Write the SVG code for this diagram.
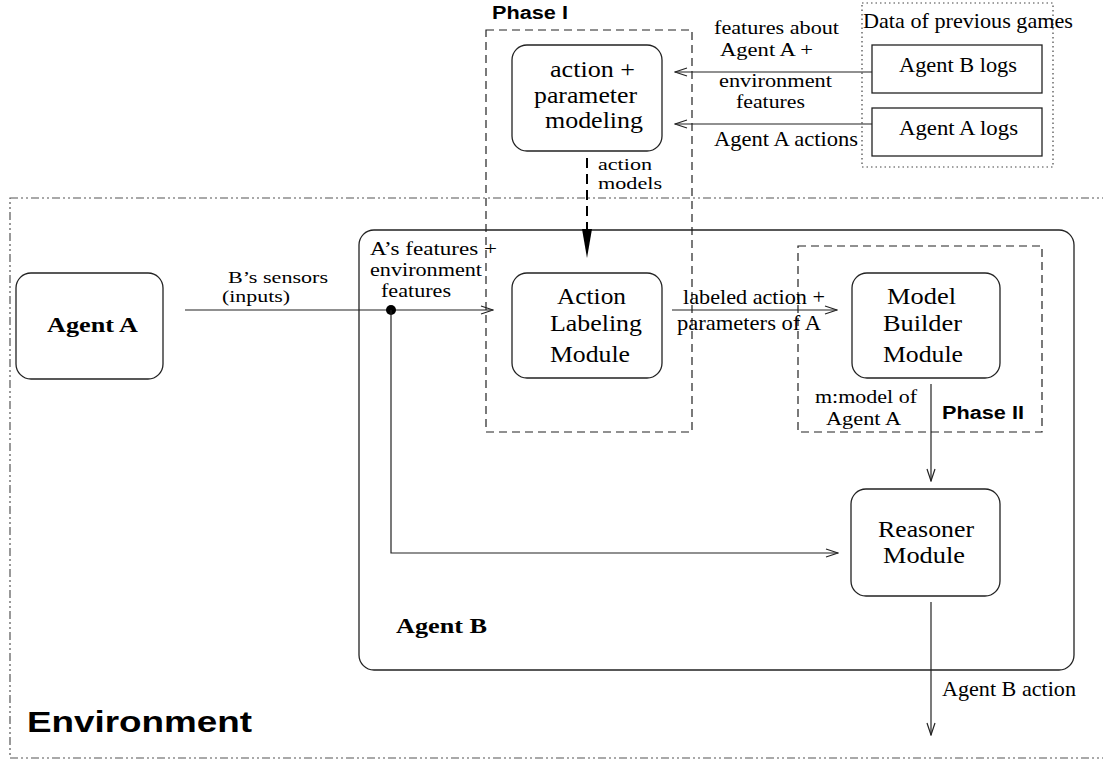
<svg xmlns="http://www.w3.org/2000/svg" width="1103" height="762" viewBox="0 0 1103 762">
<style>
.s{font-family:"Liberation Serif","Times New Roman",serif;font-size:22px;fill:#000}
.t{font-family:"Liberation Serif","Times New Roman",serif;font-size:18px;fill:#000}
.u{font-family:"Liberation Serif","Times New Roman",serif;font-size:16px;fill:#000}
.n{font-family:"Liberation Serif","Times New Roman",serif;font-size:24px;fill:#000}
.b{font-family:"Liberation Serif","Times New Roman",serif;font-size:21px;font-weight:bold;fill:#000}
.h{font-family:"Liberation Sans",Arial,sans-serif;font-size:18px;font-weight:bold;fill:#000}
.node{fill:#fff;stroke:#222;stroke-width:1.3}
.ln{fill:none;stroke:#222;stroke-width:1.2}
.dash{fill:none;stroke:#222;stroke-width:1.2;stroke-dasharray:8 5}
</style>
<defs>
<marker id="oa" markerUnits="userSpaceOnUse" markerWidth="14" markerHeight="10" refX="13" refY="5" orient="auto">
<path d="M1,1 L13,5 L1,9" fill="none" stroke="#222" stroke-width="1.2"/>
</marker>
</defs>
<rect width="1103" height="762" fill="#fff"/>

<g id="environment">
<rect x="10" y="198" width="1110" height="560" fill="none" stroke="#555" stroke-width="1.2" stroke-dasharray="8 3 2 3 2 3"/>
<text class="h" x="27" y="732" style="font-size:30px" textLength="225" lengthAdjust="spacingAndGlyphs">Environment</text>
</g>

<g id="agentB">
<rect x="359" y="230" width="715" height="440" rx="15" fill="none" stroke="#222" stroke-width="1.3"/>
<text class="b" x="396" y="633" textLength="91" lengthAdjust="spacingAndGlyphs">Agent B</text>
</g>

<g id="phase1">
<rect x="486" y="30" width="206" height="402" class="dash"/>
<text class="h" x="492" y="19" textLength="76" lengthAdjust="spacingAndGlyphs">Phase I</text>
</g>

<g id="phase2">
<rect x="798" y="246" width="244" height="186" class="dash"/>
<text class="h" x="942" y="419" textLength="82" lengthAdjust="spacingAndGlyphs">Phase II</text>
</g>

<g id="data">
<rect x="862" y="3" width="191" height="164" fill="none" stroke="#444" stroke-width="1.2" stroke-dasharray="1.5 3"/>
<text class="s" x="863" y="28" textLength="210" lengthAdjust="spacingAndGlyphs">Data of previous games</text>
</g>

<g id="agentBlogs">
<rect x="872" y="45" width="170" height="48" fill="#fff" stroke="#222" stroke-width="1.3"/>
<text class="s" x="899" y="72" textLength="118" lengthAdjust="spacingAndGlyphs">Agent B logs</text>
</g>

<g id="agentAlogs">
<rect x="872" y="108" width="170" height="48" fill="#fff" stroke="#222" stroke-width="1.3"/>
<text class="s" x="899" y="135" textLength="119" lengthAdjust="spacingAndGlyphs">Agent A logs</text>
</g>

<g id="modeling">
<rect x="512" y="45" width="150" height="106" rx="15" class="node"/>
<text class="n" x="550" y="77" textLength="85" lengthAdjust="spacingAndGlyphs">action +</text>
<text class="n" x="534" y="103" textLength="103" lengthAdjust="spacingAndGlyphs">parameter</text>
<text class="n" x="545" y="128" textLength="98" lengthAdjust="spacingAndGlyphs">modeling</text>
</g>

<g id="agentA">
<rect x="16" y="273" width="147" height="106" rx="15" class="node"/>
<text class="b" x="47" y="332" textLength="91" lengthAdjust="spacingAndGlyphs">Agent A</text>
</g>

<g id="labeling">
<rect x="512" y="273" width="150" height="105" rx="15" class="node"/>
<text class="n" x="557" y="304" textLength="69" lengthAdjust="spacingAndGlyphs">Action</text>
<text class="n" x="550" y="331" textLength="92" lengthAdjust="spacingAndGlyphs">Labeling</text>
<text class="n" x="550" y="362" textLength="80" lengthAdjust="spacingAndGlyphs">Module</text>
</g>

<g id="builder">
<rect x="852" y="273" width="148" height="105" rx="15" class="node"/>
<text class="n" x="887" y="304" textLength="69" lengthAdjust="spacingAndGlyphs">Model</text>
<text class="n" x="883" y="331" textLength="79" lengthAdjust="spacingAndGlyphs">Builder</text>
<text class="n" x="883" y="362" textLength="80" lengthAdjust="spacingAndGlyphs">Module</text>
</g>

<g id="reasoner">
<rect x="851" y="489" width="149" height="107" rx="15" class="node"/>
<text class="n" x="878" y="537" textLength="96" lengthAdjust="spacingAndGlyphs">Reasoner</text>
<text class="n" x="883" y="563" textLength="82" lengthAdjust="spacingAndGlyphs">Module</text>
</g>

<g id="connectors">
<line x1="872" y1="72" x2="675" y2="72" class="ln" marker-end="url(#oa)"/>
<line x1="872" y1="124" x2="675" y2="124" class="ln" marker-end="url(#oa)"/>
<line x1="185" y1="310" x2="493" y2="310" class="ln" marker-end="url(#oa)"/>
<circle cx="391" cy="310" r="5" fill="#000"/>
<polyline points="391,310 391,553 838,553" class="ln" marker-end="url(#oa)"/>
<line x1="672" y1="310" x2="837" y2="310" class="ln" marker-end="url(#oa)"/>
<line x1="931" y1="384" x2="931" y2="481" class="ln" marker-end="url(#oa)"/>
<line x1="931" y1="602" x2="931" y2="735" class="ln" marker-end="url(#oa)"/>
<line x1="587" y1="158" x2="587" y2="230" fill="none" stroke="#000" stroke-width="2" stroke-dasharray="10 6"/>
<polygon points="582,229 592,229 587,258" fill="#000"/>
</g>

<g id="labels">
<text class="t" x="714" y="34" textLength="125" lengthAdjust="spacingAndGlyphs">features about</text>
<text class="t" x="720" y="56" textLength="93" lengthAdjust="spacingAndGlyphs">Agent A +</text>
<text class="t" x="719" y="87" textLength="113" lengthAdjust="spacingAndGlyphs">environment</text>
<text class="t" x="736" y="108" textLength="69" lengthAdjust="spacingAndGlyphs">features</text>
<text class="s" x="714" y="146" textLength="144" lengthAdjust="spacingAndGlyphs">Agent A actions</text>
<text class="u" x="598" y="170" textLength="54" lengthAdjust="spacingAndGlyphs">action</text>
<text class="u" x="598" y="189" textLength="64" lengthAdjust="spacingAndGlyphs">models</text>
<text class="u" x="228" y="283" textLength="100" lengthAdjust="spacingAndGlyphs">B’s sensors</text>
<text class="u" x="222" y="302" textLength="68" lengthAdjust="spacingAndGlyphs">(inputs)</text>
<text class="t" x="370" y="255" textLength="127" lengthAdjust="spacingAndGlyphs">A’s features +</text>
<text class="t" x="370" y="276" textLength="112" lengthAdjust="spacingAndGlyphs">environment</text>
<text class="t" x="381" y="297" textLength="70" lengthAdjust="spacingAndGlyphs">features</text>
<text class="s" x="683" y="304" textLength="142" lengthAdjust="spacingAndGlyphs">labeled action +</text>
<text class="s" x="677" y="330" textLength="144" lengthAdjust="spacingAndGlyphs">parameters of A</text>
<text class="t" x="815" y="403" textLength="102" lengthAdjust="spacingAndGlyphs">m:model of</text>
<text class="t" x="826" y="425" textLength="75" lengthAdjust="spacingAndGlyphs">Agent A</text>
<text class="s" x="942" y="696" textLength="134" lengthAdjust="spacingAndGlyphs">Agent B action</text>
</g>
</svg>
